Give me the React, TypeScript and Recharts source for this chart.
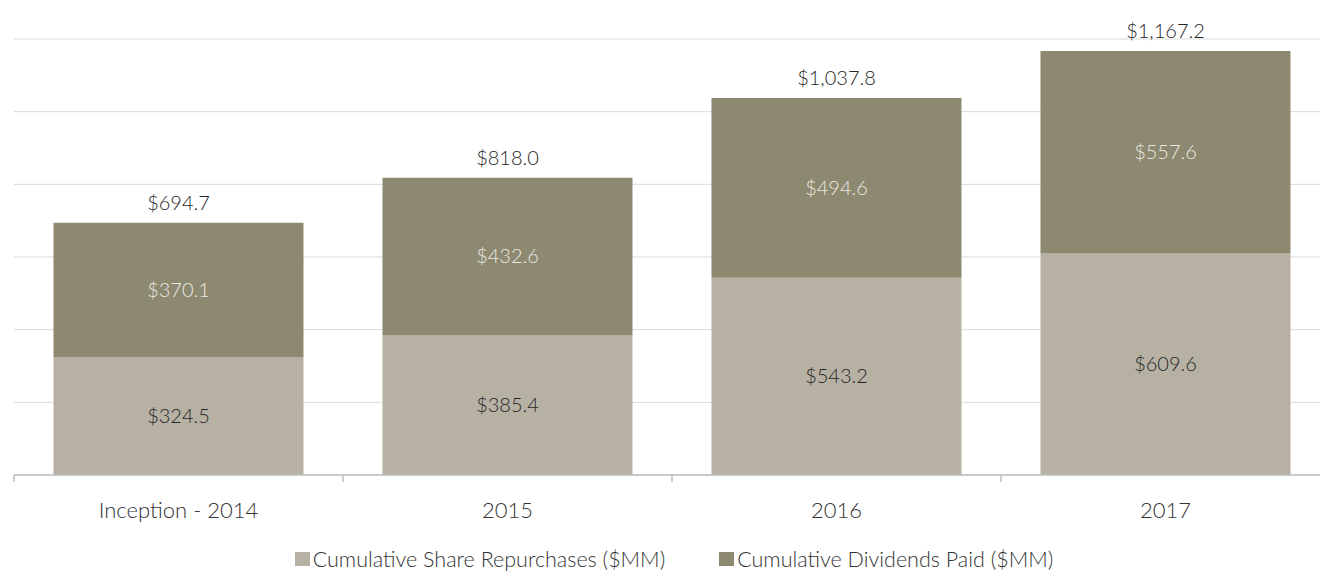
import React from 'react';
import {
  BarChart,
  Bar,
  XAxis,
  YAxis,
  CartesianGrid,
  Legend,
  LabelList,
} from 'recharts';

const categories = ['Inception - 2014', '2015', '2016', '2017'];
const repurchases = [324.5, 385.4, 543.2, 609.6];
const dividends = [370.1, 432.6, 494.6, 557.6];
const totals = [694.7, 818.0, 1037.8, 1167.2];
const yTicks = [0, 200, 400, 600, 800, 1000, 1200];
const edgeTicks = [0, 1, 2, 3, 4];
const legendOrder = ['repurchases', 'dividends'];

// slot is the category index centred in its band, for the boundary-tick axis
const data = categories.map((name, i) => ({
  name,
  slot: i + 0.5,
  repurchases: repurchases[i],
  dividends: dividends[i],
  total: totals[i],
}));

const FONT = 'Lato, "Noto Sans", sans-serif';
const REPURCHASE_COLOR = '#b7b1a4';
const DIVIDEND_COLOR = '#8d8870';

const money = (v: any) =>
  '$' + Number(v).toLocaleString('en-US', { minimumFractionDigits: 1, maximumFractionDigits: 1 });

const LegendContent = ({ payload }: any) => {
  const items = [...(payload || [])].sort(
    (a: any, b: any) => legendOrder.indexOf(a.dataKey) - legendOrder.indexOf(b.dataKey)
  );
  return (
    <div
      style={{
        display: 'flex',
        justifyContent: 'center',
        fontFamily: FONT,
        fontWeight: 300,
        fontSize: 21.5,
        lineHeight: '22px',
        color: '#333',
        paddingLeft: 4,
      }}
    >
      {items.map((p: any, i: number) => (
        <div key={i} style={{ display: 'flex', alignItems: 'center', marginRight: i === 0 ? 54 : 0 }}>
          <span style={{ width: 15, height: 14, background: p.color, display: 'inline-block', marginRight: 3 }} />
          <span>{p.value}</span>
        </div>
      ))}
    </div>
  );
};

export default function App() {
  return (
    <div style={{ position: 'fixed', left: 0, top: 0, width: 1320, height: 572, overflow: 'hidden', background: '#fff' }}>
      <BarChart
        width={1336}
        height={572}
        data={data}
        margin={{ top: 39, right: 6, bottom: 0, left: 14 }}
        barCategoryGap="12%"
      >
        {/* boundary ticks + axis line, nearest the plot */}
        <XAxis
          xAxisId="a"
          type="number"
          dataKey="slot"
          domain={[0, 4]}
          ticks={edgeTicks}
          height={1}
          tickFormatter={() => ''}
          tickSize={7}
          stroke="#bfbfbf"
          strokeWidth={1.5}
        />
        <XAxis
          xAxisId="b"
          dataKey="name"
          height={72}
          axisLine={false}
          tickLine={false}
          tickMargin={20}
          tick={{ fontFamily: FONT, fontWeight: 300, fontSize: 22, fill: '#333' }}
        />
        <YAxis hide domain={[0, 1200]} ticks={yTicks} />
        <CartesianGrid xAxisId="b" vertical={false} stroke="#d9d9d9" />
        <Legend verticalAlign="bottom" height={24} content={<LegendContent />} />
        <Bar
          xAxisId="b"
          dataKey="repurchases"
          name="Cumulative Share Repurchases ($MM)"
          stackId="a"
          fill={REPURCHASE_COLOR}
          isAnimationActive={false}
        >
          <LabelList
            dataKey="repurchases"
            position="center"
            formatter={money}
            style={{ fontFamily: FONT, fontWeight: 300, fontSize: 20, fill: '#262626' }}
          />
        </Bar>
        <Bar
          xAxisId="b"
          dataKey="dividends"
          name="Cumulative Dividends Paid ($MM)"
          stackId="a"
          fill={DIVIDEND_COLOR}
          isAnimationActive={false}
        >
          <LabelList
            dataKey="dividends"
            position="center"
            formatter={money}
            style={{ fontFamily: FONT, fontWeight: 300, fontSize: 20, fill: '#eae8e0' }}
          />
          <LabelList
            dataKey="total"
            position="top"
            offset={13}
            formatter={money}
            style={{ fontFamily: FONT, fontWeight: 300, fontSize: 20, fill: '#262626' }}
          />
        </Bar>
      </BarChart>
    </div>
  );
}
